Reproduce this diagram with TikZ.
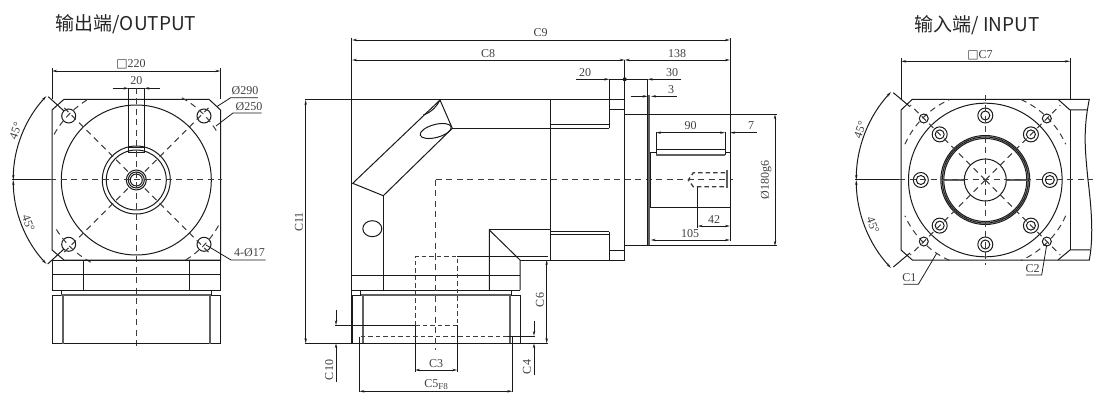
\documentclass[tikz,border=0pt]{standalone}
\usepackage{fontspec}
\setmainfont{Liberation Serif}
\newfontfamily\titlefont{Noto Sans CJK SC}
\newfontfamily\boxfont{DejaVu Sans}
\usetikzlibrary{arrows.meta}
\definecolor{inkline}{HTML}{1A1A1A}
\definecolor{inktext}{HTML}{404040}
\tikzset{
part/.style={draw=inkline,line width=1pt},
heavy/.style={draw=inkline!70,line width=1.7pt},
center/.style={draw=inkline!85,line width=1pt,dash pattern=on 6pt off 4.5pt},
hidden/.style={draw=inkline!85,line width=1pt,dash pattern=on 4.5pt off 3pt},
dim/.style={draw=inkline,line width=0.8pt,{Stealth[length=5pt,width=2.4pt]}-{Stealth[length=5pt,width=2.4pt]}},
lead/.style={draw=inkline,line width=0.8pt,-{Stealth[length=5pt,width=2.4pt]}},
thin part/.style={draw=inkline,line width=0.8pt},
label/.style={inner sep=0pt,text=inktext,font=\fontsize{12}{12}\selectfont},
title/.style={inner sep=0pt,text=black!85,font=\titlefont\fontsize{19}{19}\selectfont}
}
\begin{document}
\begin{tikzpicture}[x=1pt,y=-1pt]
\useasboundingbox (0,0) rectangle (1110,403);
\node[title] (titleout) at (126,24) {输出端/OUTPUT};
\node[title] (titlein) at (977,25) {输入端/ INPUT};
% output end
\coordinate (oc) at (136.3,180);
\draw[part] (64,99.3) -- (209,99.3) -- (220.5,110) -- (220.5,260) -- (209,260) -- (64,260) -- (52,250) -- (52,110) -- cycle;
\draw[part] (oc) circle (75) (oc) circle (34) (oc) circle (30);
\draw[part] (oc) circle (10) (oc) circle (8) (oc) circle (6);
\draw[part] (128.7,88.3) rectangle (144.3,152.7) (128.7,147.7) -- (144.3,147.7);
\foreach \pos in {(68.7,116),(204,116),(68.7,244.3),(204,244.3)}
  \draw[part] \pos circle (7);
\foreach \a in {45,135,225,315}{
  \draw[center] (oc) ++(\a:12) -- ++(\a:91);
  \draw[center] (oc) ++(\a-16:94) arc (\a-16:\a+16:94);
}
\draw[part] (48.3,96.7) -- (64,111) (47.7,264) -- (64,249);
\draw[part,{Stealth[length=5pt,width=2.4pt]}-{Stealth[length=5pt,width=2.4pt]}] (oc) ++(137:123) arc (137:180:123);
\draw[part,{Stealth[length=5pt,width=2.4pt]}-{Stealth[length=5pt,width=2.4pt]}] (oc) ++(180:123) arc (180:223:123);
\draw[part] (12,180) -- (50,180);
\draw[center] (50,180) -- (222,180);
\draw[center] (136.3,88) -- (136.3,349);
\draw[part] (52,260) rectangle (220.5,290) (52,274.7) -- (220.5,274.7);
\draw[part] (83.3,260) -- (83.3,290) (189.3,260) -- (189.3,290);
\draw[part] (61.3,290) -- (61.3,295.3) (211.3,290) -- (211.3,295.3);
\draw[part] (52,295.3) rectangle (220.5,343.7);
\draw[heavy] (62.7,295) -- (62.7,343.7) (210,295) -- (210,343.7) (61.3,294.8) -- (211.3,294.8);
\draw[thin part] (52,99) -- (52,68) (220.5,99) -- (220.5,68);
\draw[dim] (52,71) -- (220.5,71);
\node[label] (squareout) at (131,64.5) {{\boxfont\fontsize{12}{12}\selectfont □}220};
\draw[lead] (112.7,88.3) -- (128.7,88.3);
\draw[lead] (160.3,88.3) -- (144.3,88.3);
\node[label] (keyw) at (136.3,81) {20};
\draw[thin part] (258,97.7) -- (230.7,97.7) -- (216.7,106.7);
\node[label] (phibig) at (245,91) {Ø290};
\draw[thin part] (261.7,113) -- (233,113) -- (216,126);
\node[label] (phimid) at (249,106.5) {Ø250};
\draw[thin part] (265.7,260) -- (231,260) -- (206,245);
\node[label] (holes) at (249.5,253) {4-Ø17};
\node[label,rotate=70] (angup) at (15.5,131) {45°};
\node[label,rotate=-70] (angdown) at (28.5,223) {45°};
% side view
\draw[part] (351.7,38) -- (351.7,343.3);
\draw[part] (305,100) -- (624.7,100);
\draw[part] (305,343.3) -- (548,343.3);
\draw[dim] (352,40) -- (730,40);
\node[label] (cnine) at (540.7,33) {C9};
\draw[dim] (352,60) -- (624.7,60);
\node[label] (ceight) at (488,53.5) {C8};
\draw[dim] (624.7,60) -- (730,60);
\node[label] (dlen) at (677,53.5) {138};
\draw[dim] (305.7,100) -- (305.7,343.3);
\node[label,rotate=90] (celeven) at (299,222) {C11};
% elbow
\draw[part] (352.7,183.3) -- (440,100) -- (452.3,128.3) -- (383.3,195.7) -- cycle;
\draw[part] (423.3,115) .. controls (432,112) and (437,106) .. (440,100);
\draw[part,rotate around={15:(435.7,131)}] (435.7,131) ellipse (16 and 6.5);
\draw[part] (452.3,128.3) -- (550,128.3);
\draw[part] (383.3,195.7) -- (383.3,290);
\draw[part] (372.3,228.7) ellipse (9.5 and 8);
\draw[part] (550,100) -- (550,260);
\draw[part] (489.3,290) -- (489.3,230) -- (520,260) -- (520,290);
\draw[part] (489.3,230) -- (550,230) (520,260) -- (550,260);
\draw[part] (352,275) -- (520,275) (352,290) -- (520,290);
\draw[part] (360.7,290) -- (360.7,295.3) (511,290) -- (511,295.3);
\draw[part] (352,295.3) rectangle (520,343.3);
\draw[heavy] (362.7,295) -- (362.7,343.3) (509.7,295) -- (509.7,343.3) (360.7,294.8) -- (511,294.8);
\draw[center] (435.7,180) -- (435.7,350);
\draw[center] (435.7,180) -- (733,180);
\draw[hidden] (415,325) -- (415,256.7) -- (457.3,256.7) -- (457.3,325);
\draw[part] (457.3,256.7) -- (548,256.7);
\draw[thin part] (415,325) -- (415,371.7) (457.3,325) -- (457.3,371.7);
\draw[dim] (415,370) -- (457.3,370);
\node[label] (cthree) at (436,363.5) {C3};
\draw[thin part] (335,325.3) -- (415,325.3);
\draw[hidden] (415,325.3) -- (457.3,325.3);
\draw[lead] (336,310) -- (336,325.3);
\draw[lead] (336,381.7) -- (336,343.3);
\node[label,rotate=90] (cten) at (329.3,370) {C10};
\draw[hidden] (360.7,336) -- (508,336);
\draw[thin part] (508,336) -- (535,336);
\draw[lead] (534,320.7) -- (534,336);
\draw[lead] (534,375) -- (534,343.3);
\node[label,rotate=90] (cfour) at (527,367) {C4};
\draw[thin part] (359.3,336.7) -- (359.3,391.7) (512.3,336.7) -- (512.3,391.7);
\draw[dim] (359.3,391.3) -- (512.3,391.3);
\node[label] (cfive) at (436,384.5) {C5\raisebox{-2pt}{\fontsize{9}{9}\selectfont F8}};
\draw[dim] (546.7,260) -- (546.7,343.3);
\node[label,rotate=90] (csix) at (540,300) {C6};
% input flange of side view
\draw[part] (609.3,79.3) -- (609.3,128.3) (609.3,231.7) -- (609.3,260.5);
\draw[part] (550,125) -- (609.3,125) (550,128.3) -- (609.3,128.3);
\draw[part] (550,231.7) -- (609.3,231.7) (550,235) -- (609.3,235);
\draw[part] (609.3,109.3) -- (624.7,109.3) (609.3,250.7) -- (624.7,250.7);
\draw[part] (550,260.5) -- (624.7,260.5);
\draw[part] (624.7,60) -- (624.7,260.5);
\draw[part] (609.3,79.3) -- (647.7,79.3);
\draw[part] (647.7,79.3) -- (647.7,246);
\draw[heavy] (649.3,95) -- (649.3,246);
\draw[part] (624.7,114.3) -- (776.7,114.3) (624.7,246) -- (776.7,246);
\draw[part] (730,38) -- (730,240.7);
\fill[inkline] (624.7,79.3) circle (2);
% shaft
\draw[part] (650.7,152.3) -- (650.7,207.7) -- (730,207.7);
\draw[part] (650.7,152.3) -- (656,152.3) (725,152.3) -- (730,152.3);
\draw[part] (656,131.7) -- (656,155) (725,131.7) -- (725,155);
\draw[part] (656,149.3) -- (725,149.3);
\draw[heavy] (656,155) -- (725,155);
\draw[dim] (656,132.7) -- (725,132.7);
\node[label] (keylen) at (690.7,126) {90};
\draw[lead] (756.7,132.7) -- (730,132.7);
\node[label] (keyend) at (751,126) {7};
\draw[lead] (576,79.3) -- (609.3,79.3);
\node[label] (flangew) at (585,72.5) {20};
\draw[lead] (681,79.3) -- (647.7,79.3);
\node[label] (flangeh) at (672,72.5) {30};
\draw[lead] (631,96.3) -- (647.7,96.3);
\draw[lead] (676.7,96.3) -- (651,96.3);
\node[label] (stepw) at (671,89.5) {3};
\draw[dim] (775,114.3) -- (775,246);
\node[label,rotate=90] (shaftd) at (766,180) {Ø180g6};
\draw[hidden,line width=1.3pt] (725,172.7) -- (693.3,172.7) -- (688.3,180) -- (693.3,186.7) -- (725,186.7);
\draw[heavy] (727,170) -- (727,188);
\draw[thin part] (697.7,187) -- (697.7,228);
\draw[dim] (697.7,226) -- (730,226);
\node[label] (holedepth) at (714,219.5) {42};
\draw[dim] (650.7,240) -- (730,240);
\node[label] (shaftl) at (690,233.5) {105};
% input end
\coordinate (ic) at (985.3,180);
\draw[part] (912.3,99.3) -- (1089.3,99.3) .. controls (1083,130) and (1085,150) .. (1088,180) .. controls (1091,205) and (1094,235) .. (1089.3,260) -- (912.3,260) -- (901,250) -- (901,110) -- cycle;
\draw[part] (1058,99.3) -- (1070,110) -- (1087,110) (1058,260) -- (1070,250) -- (1090,250);
\draw[part] (1070,110) -- (1070,250);
\draw[thin part] (901,99) -- (901,58) (1070,99) -- (1070,58);
\draw[dim] (901,61.3) -- (1070,61.3);
\node[label] (squarein) at (980,55) {{\boxfont\fontsize{12}{12}\selectfont □}C7};
\draw[part] (ic) circle (76.8) (ic) circle (44.5) (ic) circle (43) (ic) circle (41.5) (ic) circle (21);
\draw[heavy] (941.7,180) -- (964,180) (1006.7,180) -- (1027,180);
\foreach \a in {0,45,...,315}{
  \draw[part] (ic) ++(\a:64.5) circle (7.5);
  \draw[part] (ic) ++(\a:64.5) circle (4.5);
}
\foreach \a in {45,135,225,315}{
  \draw[center] (ic) -- ++(\a:106);
  \draw[center] (ic) ++(\a-21:88) arc (\a-21:\a+21:88);
  \draw[part] (ic) ++(\a:87) circle (4.5);
}
\draw[part] (893.3,92.7) -- (910,106.7) (893.3,267) -- (910,253);
\draw[part,{Stealth[length=5pt,width=2.4pt]}-{Stealth[length=5pt,width=2.4pt]}] (ic) ++(137:129) arc (137:180:129);
\draw[part,{Stealth[length=5pt,width=2.4pt]}-{Stealth[length=5pt,width=2.4pt]}] (ic) ++(180:129) arc (180:223:129);
\draw[part] (855,180) -- (899,180);
\draw[center] (899,180) -- (1093,180);
\draw[center] (ic) ++(0,-85) -- ++(0,170);
\node[label,rotate=70] (angupin) at (860,130) {45°};
\node[label,rotate=-70] (angdownin) at (873,225) {45°};
\draw[thin part] (903.3,284.3) -- (918.3,284.3) -- (936.7,253.3);
\node[label] (cone) at (909.3,278) {C1};
\draw[thin part] (1026,275) -- (1041.7,275) -- (1046.7,245);
\node[label] (ctwo) at (1032.5,269) {C2};
\end{tikzpicture}
\end{document}
